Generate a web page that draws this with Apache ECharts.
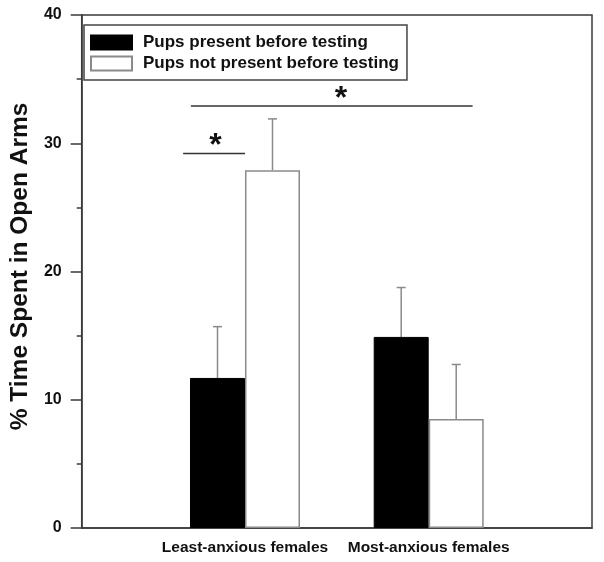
<!DOCTYPE html>
<html>
<head>
<meta charset="utf-8">
<script src="https://cdn.jsdelivr.net/npm/echarts@6/dist/echarts.min.js"></script>
<style>html,body{margin:0;padding:0;background:#fff}#c{width:604px;height:562px}</style>
</head>
<body>
<div id="c"></div>
<script>
var groupNames = ['Least-anxious females', 'Most-anxious females'];
var groupPos = [8, 17];
var seriesNames = ['Pups present before testing', 'Pups not present before testing'];
var presentMean = [11.7, 14.9];
var presentErr = [4.0, 3.85];
var absentMean = [27.9, 8.5];
var absentErr = [4.0, 4.25];
var yTicks = [0, 10, 20, 30, 40];
// significance brackets: [xStart, xEnd, y], star: [x, y]
var sigLines = [[4.97, 8.0, 29.2], [5.35, 19.15, 32.9]];
var sigStars = [[6.55, 29.75], [12.7, 33.45]];

var chart = echarts.init(document.getElementById('c'), null, {renderer: 'canvas'});
var FONT = 'Liberation Sans, Arial, sans-serif';
var frameColor = '#3a3a3a';
var greyLine = '#8a8a8a';

function pairs(means) {
  return means.map(function (v, i) { return [groupPos[i], v]; });
}
function errData(means, errs) {
  return means.map(function (v, i) { return [groupPos[i], v, v + errs[i]]; });
}
function errRender(offset) {
  return function (params, api) {
    var top = api.coord([api.value(0), api.value(2)]);
    var base = api.coord([api.value(0), api.value(1)]);
    var x = top[0] + offset;
    return {
      type: 'group',
      children: [
        {type: 'line', shape: {x1: x, y1: base[1], x2: x, y2: top[1]}, style: {stroke: greyLine, lineWidth: 1.5}},
        {type: 'line', shape: {x1: x - 4.5, y1: top[1], x2: x + 4.5, y2: top[1]}, style: {stroke: greyLine, lineWidth: 1.5}}
      ]
    };
  };
}

var option = {
  animation: false,
  backgroundColor: '#fff',
  grid: {left: 80, right: 12, top: 15, bottom: 34, show: true, borderColor: frameColor, borderWidth: 1.5, backgroundColor: 'transparent'},
  legend: {
    orient: 'vertical',
    left: 84, top: 25,
    padding: [9, 8, 8, 6],
    itemGap: 4,
    icon: 'rect',
    itemWidth: 41, itemHeight: 14,
    borderColor: '#444', borderWidth: 1.5,
    textStyle: {fontFamily: FONT, fontWeight: 'bold', fontSize: 17, color: '#111', padding: [2, 0, 0, 6]},
    data: seriesNames
  },
  xAxis: {
    type: 'value', min: 0, max: 25,
    splitLine: {show: false},
    axisTick: {show: false},
    axisLine: {show: true, onZero: false, lineStyle: {color: frameColor, width: 1.5}},
    axisLabel: {
      customValues: groupPos,
      margin: 12,
      fontFamily: FONT, fontWeight: 'bold', fontSize: 15.5, color: '#111',
      formatter: function (v) { var i = groupPos.indexOf(v); return i >= 0 ? groupNames[i] : ''; }
    }
  },
  yAxis: {
    type: 'value', min: yTicks[0], max: yTicks[yTicks.length - 1], interval: 10,
    name: '% Time Spent in Open Arms',
    nameLocation: 'middle', nameGap: 43,
    nameTextStyle: {fontFamily: FONT, fontWeight: 'bold', fontSize: 24.5, color: '#111', padding: [0, 0, 0, 10]},
    splitLine: {show: false},
    axisLine: {show: true, lineStyle: {color: frameColor, width: 1.5}},
    axisTick: {show: true, length: 11, lineStyle: {color: frameColor, width: 1.5}},
    minorTick: {show: true, splitNumber: 2, length: 5, lineStyle: {color: frameColor, width: 1.5}},
    axisLabel: {margin: 20, fontFamily: FONT, fontWeight: 'bold', fontSize: 16, color: '#111'}
  },
  series: [
    {
      name: seriesNames[0], type: 'bar', barWidth: 55, barGap: '0%',
      itemStyle: {color: '#000', borderColor: '#000', borderWidth: 1},
      data: pairs(presentMean), z: 2
    },
    {
      name: seriesNames[1], type: 'bar', barWidth: 55, barGap: '0%',
      itemStyle: {color: '#fff', borderColor: greyLine, borderWidth: 1.5},
      data: pairs(absentMean), z: 2
    },
    {
      type: 'custom', renderItem: errRender(-27.5), data: errData(presentMean, presentErr), z: 1, silent: true
    },
    {
      type: 'custom', renderItem: errRender(27.5), data: errData(absentMean, absentErr), z: 1, silent: true
    },
    {
      type: 'custom', silent: true, z: 3,
      renderItem: function (params, api) {
        var a = api.coord([api.value(0), api.value(2)]);
        var b = api.coord([api.value(1), api.value(2)]);
        return {type: 'line', shape: {x1: a[0], y1: a[1], x2: b[0], y2: b[1]}, style: {stroke: '#333', lineWidth: 1.5}};
      },
      data: sigLines
    },
    {
      type: 'custom', silent: true, z: 3,
      renderItem: function (params, api) {
        var p = api.coord([api.value(0), api.value(1)]);
        return {type: 'text', x: p[0], y: p[1], style: {text: '*', fontFamily: FONT, fontSize: 32, fontWeight: 'bold', fill: '#111', align: 'center', verticalAlign: 'middle'}};
      },
      data: sigStars
    }
  ]
};
chart.setOption(option);
</script>
</body>
</html>
